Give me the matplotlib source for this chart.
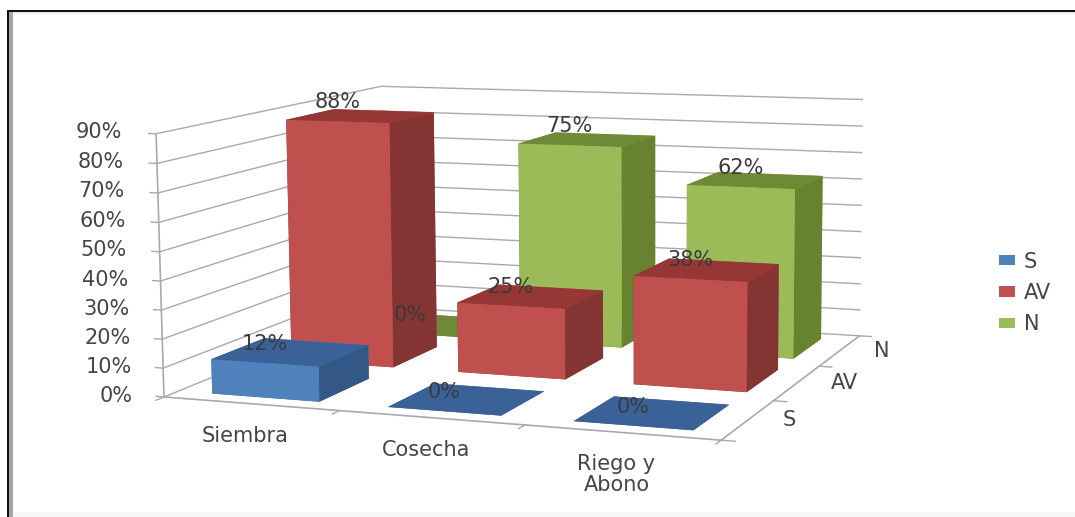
import numpy as np
import matplotlib
matplotlib.use('Agg')
import matplotlib.pyplot as plt
from matplotlib.patches import Patch, Rectangle
from mpl_toolkits.mplot3d import proj3d

categories = ['Siembra', 'Cosecha', 'Riego y\nAbono']
series = ['S', 'AV', 'N']
s_vals = [12, 0, 0]
av_vals = [88, 25, 38]
n_vals = [0, 75, 62]
z_ticks = list(range(0, 100, 10))

W, H = 1075, 517
TEXT = '#454545'
GRID = '#A9A9A9'
FS = 15
fig = plt.figure(figsize=(W/100, H/100), dpi=100)
fig.patch.set_facecolor('white')
ax = fig.add_axes([133.65/W, -120.34/H, 771.59/W, 771.59/H], projection='3d', computed_zorder=False)
ax.set_xlim(0, 3, view_margin=0)
ax.set_ylim(0, 3, view_margin=0)
ax.set_zlim(0, 90, view_margin=0)
ax.view_init(elev=8.6514, azim=-69.0538, roll=0.4384)
ax.set_proj_type('persp', focal_length=float(np.exp(-0.5025)))
ax.set_box_aspect((1, float(np.exp(-0.0727)), float(np.exp(-0.7845))), zoom=1)
ax.set_axis_off()
ax.patch.set_alpha(0)
ax.apply_aspect()

mx, wx, my, wy = 0.1977, 0.6164, 0.1680, 0.6555
# bottom, top, front, back, left, right
cols = {0: ['#385D8A', '#3A6299', '#4F81BD', '#4F81BD', '#385D8A', '#335888'],
        1: ['#7F3230', '#953735', '#C0504D', '#C0504D', '#7F3230', '#843432'],
        2: ['#66802F', '#6F8A37', '#9BBB59', '#9BBB59', '#66802F', '#67832F']}
vals = [s_vals, av_vals, n_vals]

def label(x, y, z, s, dx=0, dy=0, **kw):
    """Place a text at a projected 3D data point, shifted by (dx, dy) pixels (dy is downward)."""
    X, Y, _ = proj3d.proj_transform(x, y, z, ax.get_proj())
    px, py = ax.transData.transform((float(X), float(Y)))
    kw.setdefault('fontsize', FS)
    kw.setdefault('color', TEXT)
    fig.text((px+dx)/W, (py-dy)/H, s, **kw)

for z in z_ticks:
    ax.plot([0, 0, 3], [0, 3, 3], [z, z, z], color=GRID, lw=1, zorder=1)
    ax.plot([-0.045, 0], [0, 0], [z, z], color=GRID, lw=1, zorder=1)
    label(0, 0, z, f'{z}%', dx=-31+(z/90)*(-3), dy=-1-(z/90), ha='right', va='center')
ax.plot([0, 0], [0, 0], [0, 90], color=GRID, lw=1.2, zorder=1)
ax.plot([0, 3, 3], [0, 0, 3], [0, 0, 0], color=GRID, lw=1.2, zorder=1)
for t in [0, 1, 2, 3]:
    ax.plot([t, t], [0, -0.09], [0, 0], color=GRID, lw=1, zorder=1)
    ax.plot([3, 3.07], [t, t], [0, 0], color=GRID, lw=1, zorder=1)

for j in [2, 1, 0]:
    for i in range(3):
        h = max(vals[j][i], 0.01)
        ax.bar3d(i+mx, j+my, 0, wx, wy, h, color=cols[j], shade=False,
                 zorder=5+(2-j)*3+i*0.1, linewidth=0)
        label(i+mx+wx/2, j+my, vals[j][i], f'{vals[j][i]}%', dy=-19, ha='center', va='center',
              color='#3A3A3A', zorder=70)

for i, c in enumerate(categories):
    label(i+0.5, 0, 0, c, dx=-5, dy=22, ha='center', va='top', linespacing=1.05, zorder=60)
for j, s in enumerate(series):
    label(3, j+0.5, 0, s, dx=34, ha='left', va='center', zorder=60)

handles = [Patch(facecolor=cols[j][2], edgecolor='none', label=series[j]) for j in range(3)]
fig.legend(handles=handles, loc='center left', bbox_to_anchor=(999/W, 1-293/H), frameon=False,
           fontsize=15, handlelength=0.78, handleheight=0.38, handletextpad=0.4,
           labelspacing=0.55, borderpad=0, borderaxespad=0, labelcolor=TEXT)

def px_rect(x0, y0, x1, y1, color):
    fig.add_artist(Rectangle((x0/W, 1-y1/H), (x1-x0)/W, (y1-y0)/H, transform=fig.transFigure,
                             facecolor=color, edgecolor='none', zorder=100))

px_rect(7, 10, W, 12, '#111111')
px_rect(7, 10, 9, H, '#111111')
px_rect(9, 12, 13, H, '#A6A6A6')
px_rect(13, 12, W, 14, '#EDEDED')
px_rect(13, 512, W, H, '#F6F6F6')
fig.savefig('out.png', dpi=100)
